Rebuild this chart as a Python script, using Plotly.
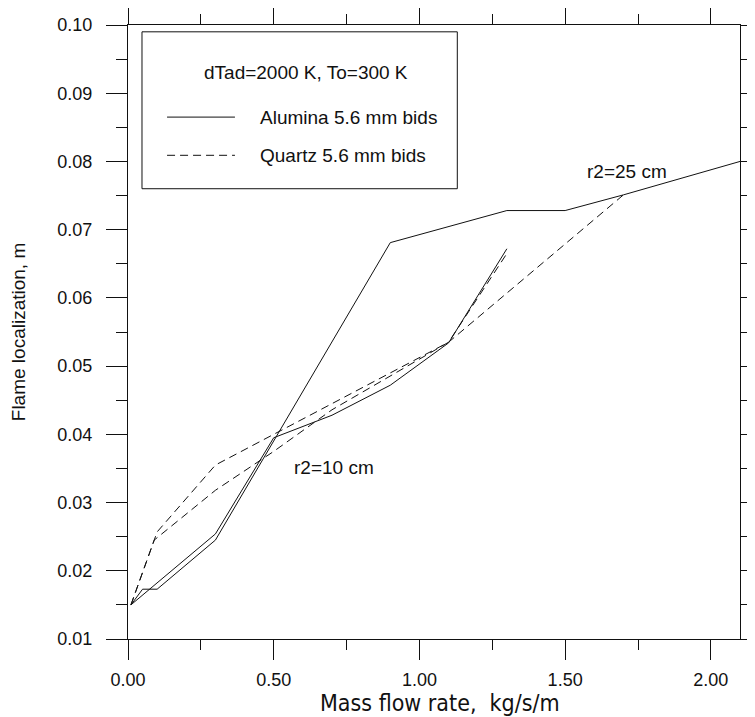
import plotly.graph_objects as go

# Alumina 5.6 mm bids (solid)
alumina_r25_x = [0.01, 0.05, 0.10, 0.30, 0.90, 1.30, 1.50, 1.70, 2.10]
alumina_r25_y = [0.0150, 0.0173, 0.0173, 0.0245, 0.0681, 0.0728, 0.0728, 0.0751, 0.0800]
alumina_r10_x = [0.01, 0.30, 0.50, 0.70, 0.90, 1.10, 1.30]
alumina_r10_y = [0.0150, 0.0254, 0.0395, 0.0428, 0.0472, 0.0534, 0.0672]

# Quartz 5.6 mm bids (dashed)
quartz_r25_x = [0.01, 0.10, 0.30, 0.50, 0.70, 0.90, 1.10, 1.70]
quartz_r25_y = [0.0150, 0.0257, 0.0355, 0.0400, 0.0446, 0.0490, 0.0535, 0.0751]
quartz_r10_x = [0.01, 0.09, 0.30, 0.50, 0.70, 0.90, 1.10, 1.30]
quartz_r10_y = [0.0150, 0.0245, 0.0318, 0.0375, 0.0436, 0.0486, 0.0535, 0.0665]

legend_title = "dTad=2000 K, To=300 K"
legend_names = ["Alumina 5.6 mm bids", "Quartz 5.6 mm bids"]
labels = [("r2=25 cm", 1.712, 0.0785), ("r2=10 cm", 0.707, 0.0352)]

FONT = "Liberation Sans, Arial, sans-serif"
INK = "#111111"
DASH = "8px,5px"

fig = go.Figure()
for xs, ys, dash in [(alumina_r25_x, alumina_r25_y, "solid"),
                     (alumina_r10_x, alumina_r10_y, "solid"),
                     (quartz_r25_x, quartz_r25_y, DASH),
                     (quartz_r10_x, quartz_r10_y, DASH)]:
    fig.add_trace(go.Scatter(x=xs, y=ys, mode="lines", showlegend=False,
                             line=dict(color=INK, width=1, dash=dash)))

# legend box drawn by hand
fig.add_shape(type="rect", xref="x", yref="y", x0=0.048, x1=1.13, y0=0.0760, y1=0.0990,
              line=dict(color=INK, width=1))
fig.add_annotation(x=0.611, y=0.0931, xref="x", yref="y", text=legend_title,
                   showarrow=False, font=dict(size=19, color=INK, family=FONT))
for i, (name, dash) in enumerate(zip(legend_names, ["solid", DASH])):
    yy = 0.0865 - i * 0.0056
    fig.add_shape(type="line", xref="x", yref="y", x0=0.134, x1=0.367, y0=yy, y1=yy,
                  line=dict(color=INK, width=1, dash=dash))
    fig.add_annotation(x=0.446, y=yy, xref="x", yref="y", text=name, xanchor="left",
                       showarrow=False, font=dict(size=19, color=INK, family=FONT))

for txt, ax, ay in labels:
    fig.add_annotation(x=ax, y=ay, xref="x", yref="y", text=txt, showarrow=False,
                       font=dict(size=19, color=INK, family=FONT))

# x axis title placed by hand just under the tick labels
fig.add_annotation(x=0.51, y=0, xref="paper", yref="paper", yshift=-64, yanchor="middle",
                   text="Mass flow rate,  kg/s/m", showarrow=False,
                   font=dict(size=23, color=INK,
                             family="Liberation Sans Narrow, DejaVu Sans Condensed, sans-serif"))

fig.update_xaxes(range=[0, 2.1], dtick=0.5, tickformat=".2f", showgrid=False, zeroline=False,
                 showline=True, linecolor=INK, linewidth=1, mirror="allticks", automargin=False,
                 ticks="outside", ticklen=20, tickcolor=INK, ticklabelstandoff=4,
                 minor=dict(dtick=0.25, ticks="outside", ticklen=10, tickcolor=INK),
                 tickfont=dict(size=18, color=INK, family=FONT))
fig.update_yaxes(range=[0.01, 0.10], dtick=0.01, tickformat=".2f", showgrid=False, zeroline=False,
                 showline=True, linecolor=INK, linewidth=1, mirror="allticks", automargin=False,
                 ticks="outside", ticklen=21, tickcolor=INK, ticklabelstandoff=10,
                 minor=dict(dtick=0.005, ticks="outside", ticklen=11, tickcolor=INK),
                 tickfont=dict(size=18, color=INK, family=FONT),
                 title=dict(text="Flame localization, m", standoff=26,
                            font=dict(size=19, color=INK, family=FONT)))

fig.update_layout(width=747, height=709, plot_bgcolor="white", paper_bgcolor="white",
                  margin=dict(l=120, r=15, t=17, b=78))
fig.write_html("out.html")
